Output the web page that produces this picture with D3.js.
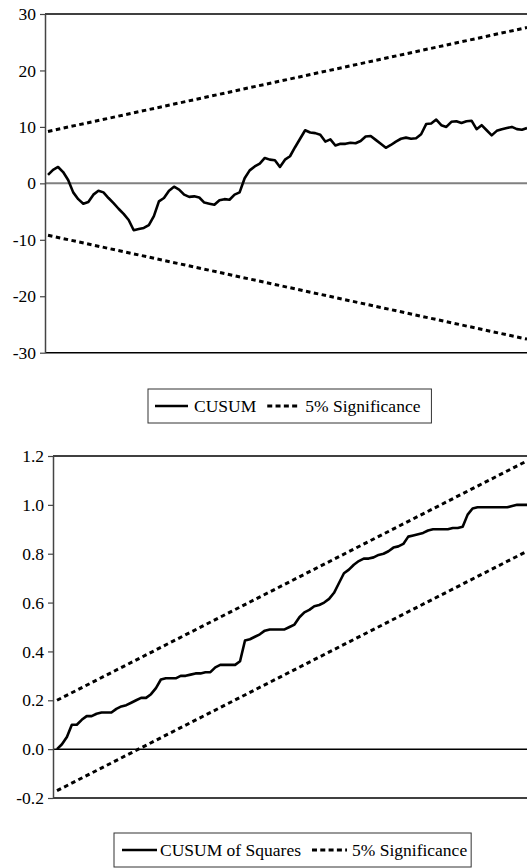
<!DOCTYPE html>
<html>
  <head>
    <meta charset="utf-8">
    <script src="https://cdn.jsdelivr.net/npm/d3@7"></script>
    <style>
      body { margin: 0; background: #fff; }
      svg text { font-family: 'Liberation Serif', 'Times New Roman', Times, serif !important; }
    </style>
  </head>
  <body>
    <div id="chart"></div>
  <script>
  var cusum = [
    1.5, 2.4, 2.9, 2.0, 0.6, -1.6, -2.8, -3.6, -3.3, -2.0,
    -1.3, -1.6, -2.6, -3.5, -4.5, -5.4, -6.5, -8.3, -8.1, -7.9,
    -7.4, -5.8, -3.2, -2.6, -1.3, -0.6, -1.1, -2.0, -2.4, -2.3,
    -2.5, -3.4, -3.6, -3.8, -3.0, -2.8, -2.9, -2.0, -1.6, 0.9,
    2.3, 3.0, 3.5, 4.5, 4.2, 4.1, 2.9, 4.2, 4.8, 6.4,
    7.9, 9.4, 9.0, 8.9, 8.6, 7.4, 7.8, 6.7, 7.0, 7.0,
    7.2, 7.1, 7.5, 8.3, 8.4, 7.7, 7.0, 6.3, 6.8, 7.4,
    7.9, 8.1, 7.9, 8.0, 8.7, 10.5, 10.6, 11.3, 10.3, 10.0,
    10.9, 11.0, 10.7, 11.0, 11.1, 9.6, 10.3, 9.4, 8.5, 9.3,
    9.6, 9.8, 10.0, 9.6, 9.5, 9.8
  ];
  // 5% bounds, first and last observation
  var cusumUpper = [9.2, 27.6];
  var cusumLower = [-9.2, -27.6];
  var cusumTicks = [-30, -20, -10, 0, 10, 20, 30];

  var cusumsq = [
    0.00, 0.02, 0.05, 0.10, 0.10, 0.12, 0.135, 0.135, 0.145, 0.15,
    0.15, 0.15, 0.165, 0.175, 0.18, 0.19, 0.20, 0.21, 0.21, 0.225,
    0.25, 0.285, 0.29, 0.29, 0.29, 0.30, 0.30, 0.305, 0.31, 0.31,
    0.315, 0.315, 0.335, 0.345, 0.345, 0.345, 0.345, 0.36, 0.445, 0.45,
    0.46, 0.47, 0.485, 0.49, 0.49, 0.49, 0.49, 0.50, 0.51, 0.54,
    0.56, 0.57, 0.585, 0.59, 0.60, 0.615, 0.64, 0.68, 0.72, 0.735,
    0.755, 0.77, 0.78, 0.78, 0.785, 0.795, 0.80, 0.81, 0.825, 0.83,
    0.84, 0.87, 0.875, 0.88, 0.885, 0.895, 0.90, 0.90, 0.90, 0.90,
    0.905, 0.905, 0.91, 0.96, 0.985, 0.99, 0.99, 0.99, 0.99, 0.99,
    0.99, 0.99, 0.995, 1.0, 1.0, 1.0
  ];
  var sqUpper = [0.20, 1.18];
  var sqLower = [-0.17, 0.81];
  var sqTicks = [-0.2, 0, 0.2, 0.4, 0.6, 0.8, 1.0, 1.2];

  var width = 527, height = 868;
  var serif = "Liberation Serif, Times New Roman, Times, serif";

  var svg = d3.select('#chart').append('svg')
    .attr('width', width)
    .attr('height', height)
    .attr('font-family', serif);

  function drawPanel(cfg) {
    var n = cfg.values.length;
    var x = d3.scaleLinear().domain([0, n - 1]).range([cfg.x0, width]);
    var y = d3.scaleLinear().domain(cfg.domain).range(cfg.yRange);
    var g = svg.append('g');

    // frame: top and bottom lines
    g.append('line')
      .attr('x1', cfg.left).attr('x2', width)
      .attr('y1', y(cfg.domain[1])).attr('y2', y(cfg.domain[1]))
      .attr('stroke', '#000').attr('stroke-width', 1.5);
    g.append('line')
      .attr('x1', cfg.left).attr('x2', width)
      .attr('y1', y(cfg.domain[0])).attr('y2', y(cfg.domain[0]))
      .attr('stroke', '#000').attr('stroke-width', 1.5);
    // zero line
    g.append('line')
      .attr('x1', cfg.left).attr('x2', width)
      .attr('y1', y(0)).attr('y2', y(0))
      .attr('stroke', cfg.zeroColor).attr('stroke-width', cfg.zeroWidth);

    var axis = g.append('g')
      .attr('transform', 'translate(' + cfg.left + ',0)')
      .call(d3.axisLeft(y).tickValues(cfg.ticks).tickSize(5).tickSizeOuter(0)
        .tickPadding(4).tickFormat(cfg.fmt));
    axis.attr('font-family', serif).attr('font-size', 17.5);
    axis.select('.domain').attr('stroke', '#444').attr('stroke-width', 1.5);
    axis.selectAll('.tick line').attr('stroke', '#444').attr('stroke-width', 1.2);
    axis.selectAll('.tick text').attr('fill', '#000');

    var line = d3.line()
      .x(function(d, i) { return x(i); })
      .y(function(d) { return y(d); });

    var bound = d3.line()
      .x(function(d, i) { return x(i * (n - 1)); })
      .y(function(d) { return y(d); });

    [cfg.upper, cfg.lower].forEach(function(b) {
      g.append('path')
        .datum(b)
        .attr('d', bound)
        .attr('fill', 'none')
        .attr('stroke', '#000')
        .attr('stroke-width', 3)
        .attr('stroke-dasharray', '4.5,3.5');
    });

    g.append('path')
      .datum(cfg.values)
      .attr('d', line)
      .attr('fill', 'none')
      .attr('stroke', '#000')
      .attr('stroke-width', 2.6)
      .attr('stroke-linejoin', 'round');

    // legend, gaps = [pad, sample, gap, gap2, sample, gap, pad]
    var gp = cfg.gaps;
    var lg = svg.append('g')
      .attr('font-family', serif)
      .attr('font-size', 17.5)
      .attr('transform', 'translate(' + cfg.legend[0] + ',' + cfg.legend[1] + ')');
    var boxH = 34;
    var rect = lg.append('rect')
      .attr('height', boxH)
      .attr('fill', '#fff')
      .attr('stroke', '#333')
      .attr('stroke-width', 1);
    var cx = gp[0], mid = boxH / 2;
    lg.append('line')
      .attr('x1', cx).attr('x2', cx + gp[1]).attr('y1', mid).attr('y2', mid)
      .attr('stroke', '#000').attr('stroke-width', 2.6);
    cx += gp[1] + gp[2];
    var t1 = lg.append('text').attr('x', cx).attr('y', mid + 6).text(cfg.label);
    cx += t1.node().getComputedTextLength() + gp[3];
    lg.append('line')
      .attr('x1', cx).attr('x2', cx + gp[4]).attr('y1', mid).attr('y2', mid)
      .attr('stroke', '#000').attr('stroke-width', 3)
      .attr('stroke-dasharray', '5,3.3');
    cx += gp[4] + gp[5];
    var t2 = lg.append('text').attr('x', cx).attr('y', mid + 6).text('5% Significance');
    cx += t2.node().getComputedTextLength() + gp[6];
    rect.attr('width', cx);
  }

  drawPanel({
    values: cusum, upper: cusumUpper, lower: cusumLower,
    domain: [-30, 30], yRange: [352.7, 14], ticks: cusumTicks,
    fmt: function(d) { return String(d); },
    left: 45, x0: 48, zeroColor: '#808080', zeroWidth: 2,
    label: 'CUSUM', legend: [148, 389], gaps: [7, 33, 6, 11, 33, 5, 11]
  });

  drawPanel({
    values: cusumsq, upper: sqUpper, lower: sqLower,
    domain: [-0.2, 1.2], yRange: [798, 456], ticks: sqTicks,
    fmt: function(d) { return d < 0 ? '-' + Math.abs(d).toFixed(1) : d.toFixed(1); },
    left: 53, x0: 57, zeroColor: '#000', zeroWidth: 1.5,
    label: 'CUSUM of Squares', legend: [114, 833], gaps: [8, 35, 3, 11, 35, 5, 4]
  });
  </script>
  </body>
</html>
